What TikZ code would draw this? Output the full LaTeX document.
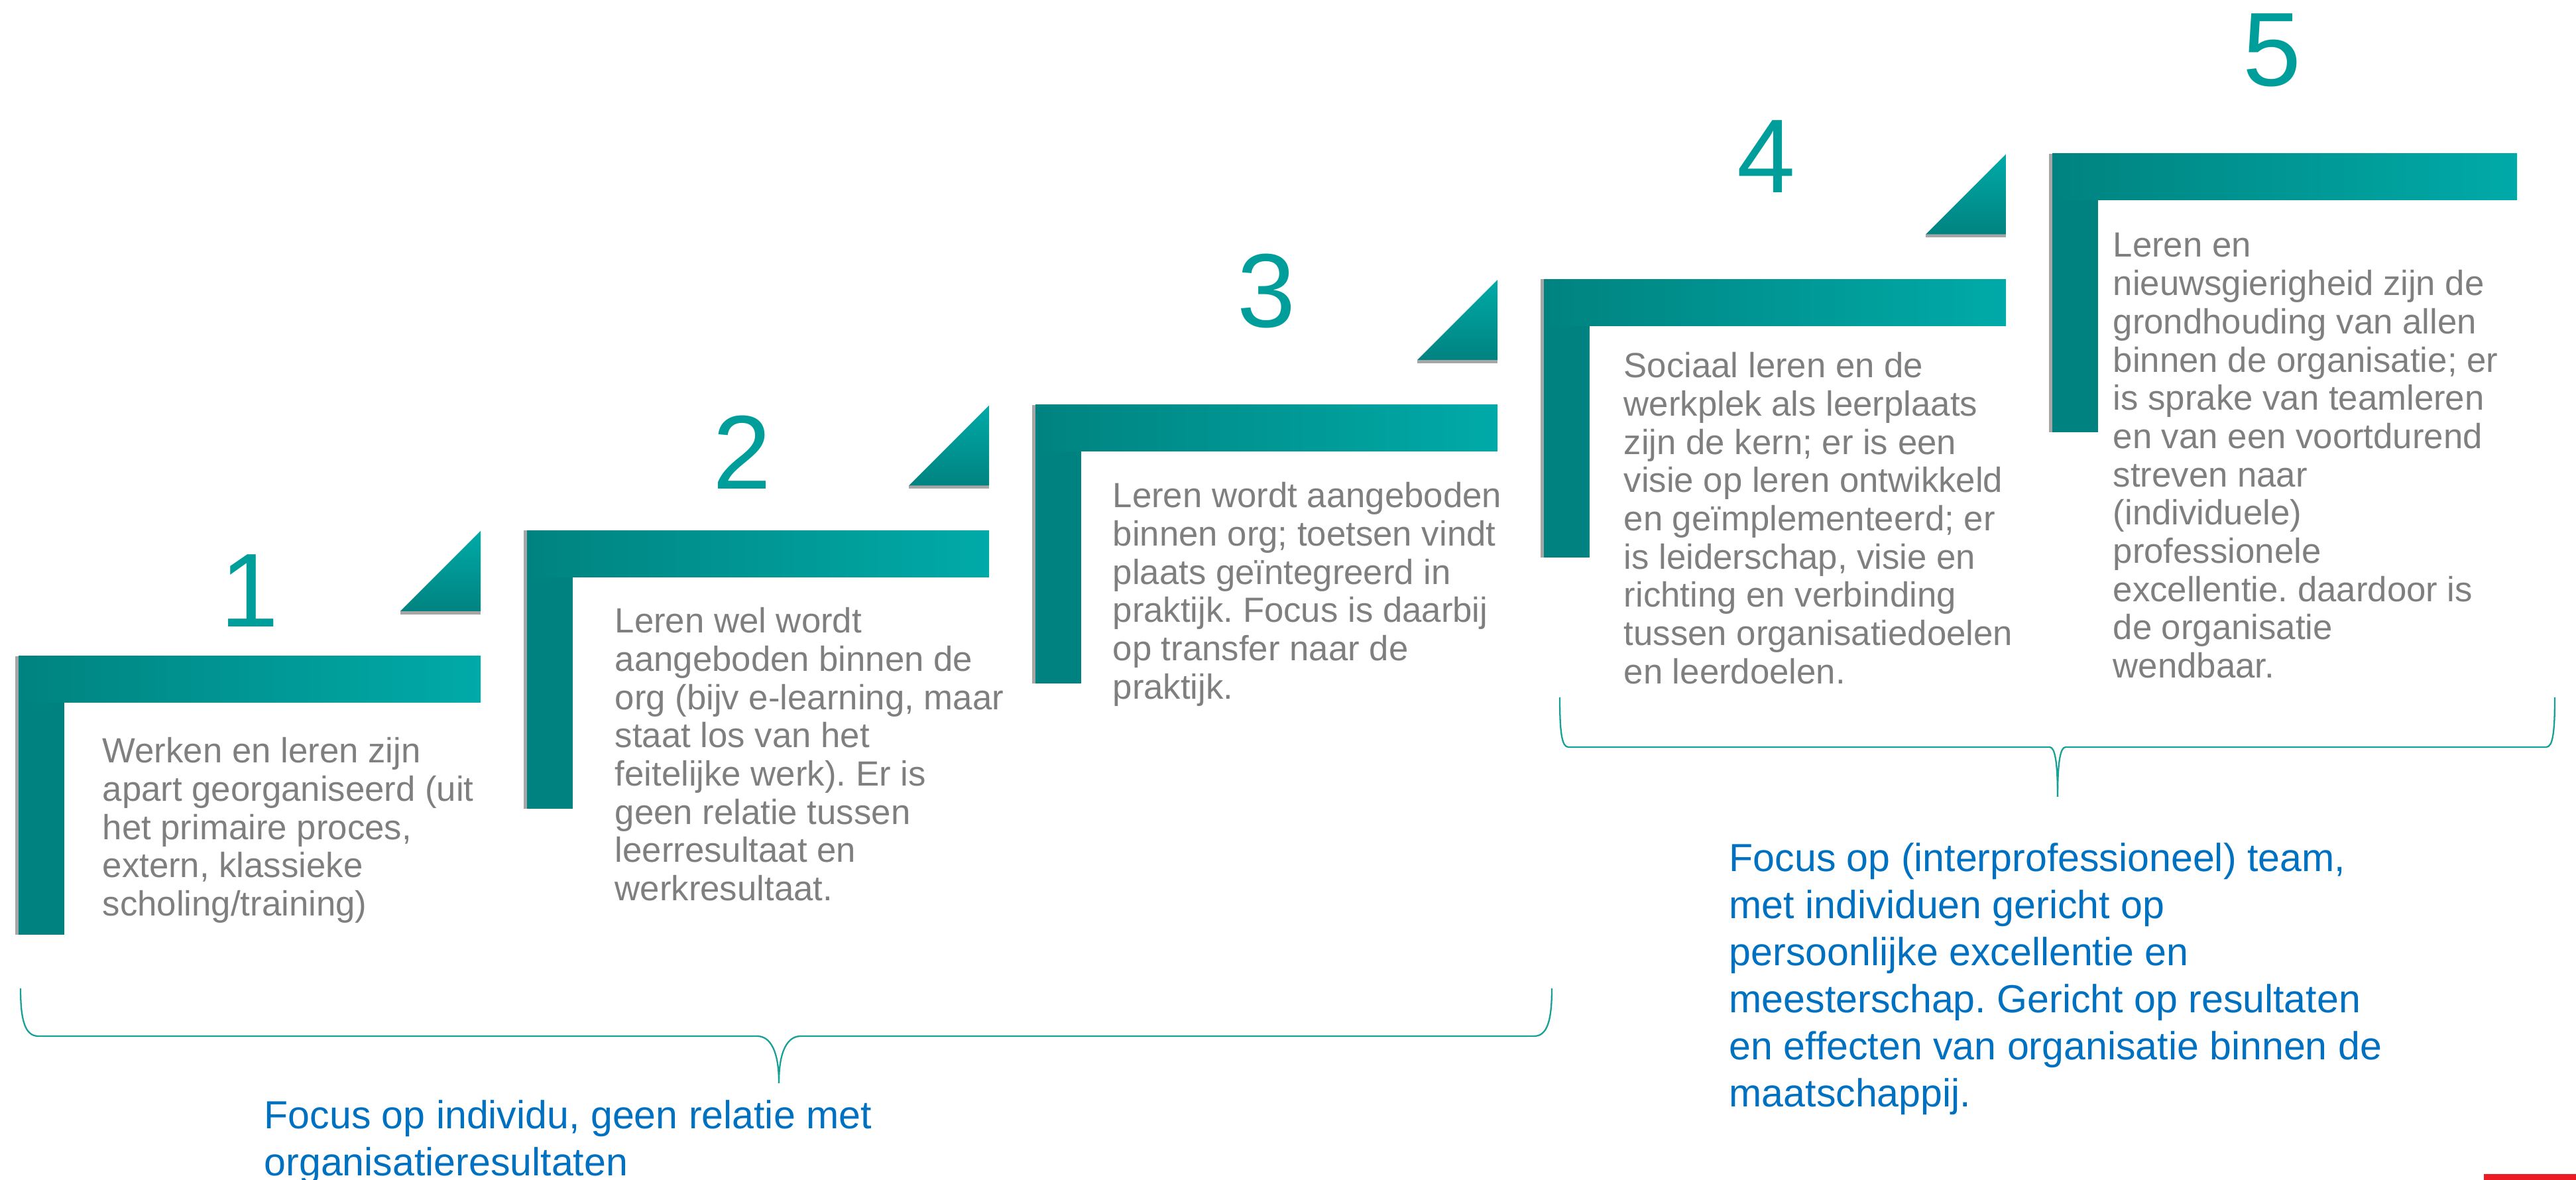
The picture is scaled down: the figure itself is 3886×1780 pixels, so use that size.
\documentclass[tikz,border=0pt]{standalone}
\usepackage{fontspec}
\setmainfont{Liberation Sans}
\usepackage{tikz}
\usetikzlibrary{positioning}
\frenchspacing

\definecolor{tealdark}{HTML}{008380}
\definecolor{teallight}{HTML}{00AAA8}
\definecolor{numteal}{HTML}{009E9A}
\definecolor{txtgray}{HTML}{7F7F7F}
\definecolor{focusblue}{HTML}{0070C0}
\definecolor{bracegreen}{HTML}{17A097}
\definecolor{shadowgray}{HTML}{A6A6A6}
\definecolor{cornerred}{HTML}{ED1C24}

\tikzset{
  hbar/.style={left color=tealdark, right color=teallight},
  vbar/.style={fill=tealdark},
  corner/.style={top color=teallight, bottom color=tealdark},
  shadowbox/.style={fill=shadowgray},
  stepnum/.style={anchor=base, inner sep=0pt, text=numteal, font=\fontsize{45}{54}\selectfont},
  steptext/.style={anchor=north west, inner sep=0pt, align=left, text=txtgray, font=\fontsize{15}{16.4}\selectfont},
  focustext/.style={anchor=north west, inner sep=0pt, align=left, text=focusblue, font=\fontsize{16.8}{20.2}\selectfont},
  brace/.style={draw=bracegreen, line width=0.65pt}
}

\begin{document}
\begin{tikzpicture}[x=0.01cm, y=-0.01cm]
  \useasboundingbox (0,0) rectangle (3886,1780);

  % step 1
  \begin{scope}[shift={(28,990)}]
    \fill[shadowbox] (-5,0) rectangle (0,420);
    \fill[vbar] (0,0) rectangle (69,420);
    \shade[hbar] (0,0) rectangle (697,70);
    \fill[shadowbox] (576,-68) rectangle (697,-63);
    \shade[corner] (576,-68) -- (697,-68) -- (697,-189) -- cycle;
  \end{scope}
  % step 2
  \begin{scope}[shift={(795,800.5)}]
    \fill[shadowbox] (-5,0) rectangle (0,420);
    \fill[vbar] (0,0) rectangle (69,420);
    \shade[hbar] (0,0) rectangle (697,70);
    \fill[shadowbox] (576,-68) rectangle (697,-63);
    \shade[corner] (576,-68) -- (697,-68) -- (697,-189) -- cycle;
  \end{scope}
  % step 3
  \begin{scope}[shift={(1562,611)}]
    \fill[shadowbox] (-5,0) rectangle (0,420);
    \fill[vbar] (0,0) rectangle (69,420);
    \shade[hbar] (0,0) rectangle (697,70);
    \fill[shadowbox] (576,-68) rectangle (697,-63);
    \shade[corner] (576,-68) -- (697,-68) -- (697,-189) -- cycle;
  \end{scope}
  % step 4
  \begin{scope}[shift={(2329,421.5)}]
    \fill[shadowbox] (-5,0) rectangle (0,420);
    \fill[vbar] (0,0) rectangle (69,420);
    \shade[hbar] (0,0) rectangle (697,70);
    \fill[shadowbox] (576,-68) rectangle (697,-63);
    \shade[corner] (576,-68) -- (697,-68) -- (697,-189) -- cycle;
  \end{scope}
  % step 5
  \begin{scope}[shift={(3096,232)}]
    \fill[shadowbox] (-5,0) rectangle (0,420);
    \fill[vbar] (0,0) rectangle (69,420);
    \shade[hbar] (0,0) rectangle (701,70);
  \end{scope}

  \node[stepnum] (num1) at (377,946) {1};
  \node[stepnum] (num2) at (1119,738) {2};
  \node[stepnum] (num3) at (1910,494) {3};
  \node[stepnum] (num4) at (2664,291) {4};
  \node[stepnum] (num5) at (3427,130) {5};

  \node[steptext] (txt1) at (154,1112) {Werken en leren zijn\\apart georganiseerd (uit\\het primaire proces,\\extern, klassieke\\scholing/training)};
  \node[steptext] (txt2) at (927,916) {Leren wel wordt\\aangeboden binnen de\\org (bijv e-learning, maar\\staat los van het\\feitelijke werk). Er is\\geen relatie tussen\\leerresultaat en\\werkresultaat.};
  \node[steptext] (txt3) at (1678,727) {Leren wordt aangeboden\\binnen org; toetsen vindt\\plaats geïntegreerd in\\praktijk. Focus is daarbij\\op transfer naar de\\praktijk.};
  \node[steptext] (txt4) at (2449,531) {Sociaal leren en de\\werkplek als leerplaats\\zijn de kern; er is een\\visie op leren ontwikkeld\\en geïmplementeerd; er\\is leiderschap, visie en\\richting en verbinding\\tussen organisatiedoelen\\en leerdoelen.};
  \node[steptext] (txt5) at (3187,351) {Leren en\\nieuwsgierigheid zijn de\\grondhouding van allen\\binnen de organisatie; er\\is sprake van teamleren\\en van een voortdurend\\streven naar\\(individuele)\\professionele\\excellentie. daardoor is\\de organisatie\\wendbaar.};

  % braces
  \draw[brace] (31,1491) .. controls (31,1540) and (38,1563) .. (58,1563) -- (1142,1563)
    .. controls (1162,1563) and (1175,1585) .. (1175,1634);
  \draw[brace] (1175,1634) .. controls (1175,1585) and (1188,1563) .. (1208,1563) -- (2314,1563)
    .. controls (2334,1563) and (2341,1540) .. (2341,1491);
  \draw[brace] (2353,1052) .. controls (2353,1105) and (2356,1127) .. (2366,1127) -- (3092,1127)
    .. controls (3100,1127) and (3104,1150) .. (3104,1202);
  \draw[brace] (3104,1202) .. controls (3104,1150) and (3108,1127) .. (3116,1127) -- (3841,1127)
    .. controls (3851,1127) and (3854,1105) .. (3854,1052);

  \node[focustext] (focus1) at (398,1659) {Focus op individu, geen relatie met\\organisatieresultaten};
  \node[focustext] (focus2) at (2608,1271) {Focus op (interprofessioneel) team,\\met individuen gericht op\\persoonlijke excellentie en\\meesterschap. Gericht op resultaten\\en effecten van organisatie binnen de\\maatschappij.};

  \fill[cornerred] (3747,1771) rectangle (3886,1780);
\end{tikzpicture}
\end{document}
